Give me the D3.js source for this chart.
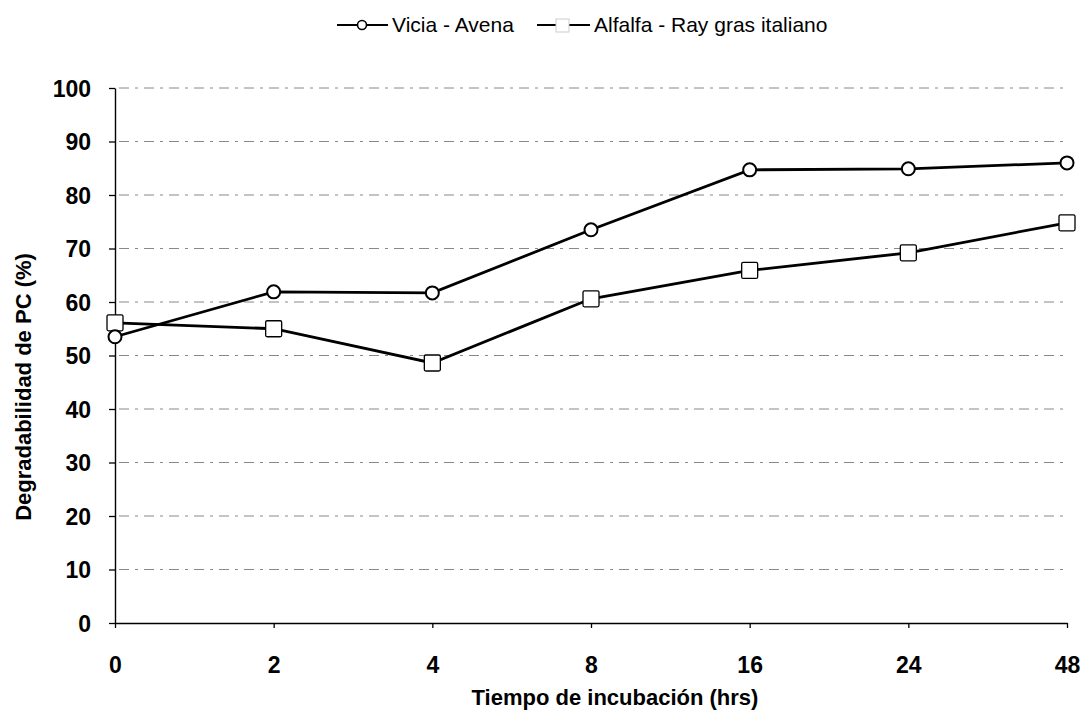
<!DOCTYPE html>
<html><head><meta charset="utf-8">
<script src="https://cdn.jsdelivr.net/npm/d3@7"></script>
<style>body{margin:0;background:#fff;} svg{display:block;font-family:"Liberation Sans",Arial,sans-serif;}</style>
</head><body>
<svg id="c" width="1085" height="712"></svg>
<script>
const categories = ["0","2","4","8","16","24","48"];
const viciaAvena = [53.5, 61.9, 61.7, 73.5, 84.7, 84.9, 86.0];
const alfalfaRay = [56.1, 55.0, 48.6, 60.6, 65.9, 69.2, 74.8];
const yTicks = [0,10,20,30,40,50,60,70,80,90,100];
const seriesNames = ["Vicia - Avena", "Alfalfa - Ray gras italiano"];

const svg = d3.select("#c");
const L = 115, R = 1067, T = 88, B = 623;
const x = d3.scalePoint().domain(categories).range([L, R]).padding(0);
const y = d3.scaleLinear().domain([0, 100]).range([B, T]);
const FONT = "Liberation Sans, Arial, sans-serif";

// gridlines
svg.append("g").selectAll("line").data(yTicks.filter(d => d > 0)).join("line")
  .attr("x1", L + 4).attr("x2", R - 4).attr("y1", d => y(d)).attr("y2", d => y(d))
  .attr("stroke", "#888").attr("stroke-width", 1).attr("stroke-dasharray", "10,6,3,6");

// y axis
const ya = svg.append("g").attr("transform", `translate(${L},0)`)
  .call(d3.axisLeft(y).tickValues(yTicks).tickSize(6).tickSizeOuter(0).tickPadding(18));
ya.select(".domain").attr("stroke", "#000").attr("stroke-width", 1.4);
ya.selectAll(".tick line").attr("stroke", "#000").attr("stroke-width", 1.3);
ya.selectAll("text").attr("font-size", 23).attr("font-weight", "bold").attr("fill", "#000")
  .attr("font-family", FONT).attr("dy", "0.36em");

// x axis
const xa = svg.append("g").attr("transform", `translate(0,${B})`)
  .call(d3.axisBottom(x).tickSize(5).tickSizeOuter(0));
xa.select(".domain").attr("stroke", "#000").attr("stroke-width", 1.6);
xa.selectAll(".tick line").attr("stroke", "#000").attr("stroke-width", 1.3);
xa.selectAll("text").attr("font-size", 23).attr("font-weight", "bold").attr("fill", "#000")
  .attr("font-family", FONT).attr("dy", null).attr("y", 50);

// axis titles
svg.append("text").attr("x", 615).attr("y", 705).attr("text-anchor", "middle")
  .attr("font-size", 22).attr("font-weight", "bold").text("Tiempo de incubación (hrs)");
svg.append("text").attr("transform", `translate(31,387) rotate(-90)`).attr("text-anchor", "middle")
  .attr("font-size", 22).attr("font-weight", "bold").text("Degradabilidad de PC (%)");

const line = d3.line().x((d, i) => x(categories[i])).y(d => y(d));

function drawSeries(vals, kind) {
  svg.append("path").datum(vals).attr("d", line).attr("fill", "none")
    .attr("stroke", "#000").attr("stroke-width", 2.8);
  const g = svg.append("g");
  if (kind === "circle") {
    g.selectAll("circle").data(vals).join("circle")
      .attr("cx", (d, i) => x(categories[i])).attr("cy", d => y(d)).attr("r", 6.5)
      .attr("fill", "#fff").attr("stroke", "#000").attr("stroke-width", 2);
  } else {
    g.selectAll("rect").data(vals).join("rect")
      .attr("x", (d, i) => x(categories[i]) - 8).attr("y", d => y(d) - 8)
      .attr("width", 16).attr("height", 16).attr("rx", 1.5)
      .attr("fill", "#fff").attr("stroke", "#000").attr("stroke-width", 1.3);
  }
}
drawSeries(alfalfaRay, "square");
drawSeries(viciaAvena, "circle");

// legend
const lg = svg.append("g");
lg.append("line").attr("x1", 337).attr("x2", 388).attr("y1", 25).attr("y2", 25).attr("stroke", "#000").attr("stroke-width", 2.2);
lg.append("circle").attr("cx", 362).attr("cy", 25).attr("r", 4.5).attr("fill", "#fff").attr("stroke", "#000").attr("stroke-width", 1.6);
lg.append("text").attr("x", 392).attr("y", 32).attr("font-size", 21).attr("font-family", FONT).text(seriesNames[0]);
lg.append("line").attr("x1", 537).attr("x2", 590).attr("y1", 25).attr("y2", 25).attr("stroke", "#000").attr("stroke-width", 2.2);
lg.append("rect").attr("x", 556).attr("y", 19).attr("width", 13).attr("height", 13).attr("fill", "#fff").attr("stroke", "#ccc").attr("stroke-width", 1);
lg.append("text").attr("x", 594).attr("y", 32).attr("font-size", 21).attr("font-family", FONT).text(seriesNames[1]);
</script>
</body></html>
